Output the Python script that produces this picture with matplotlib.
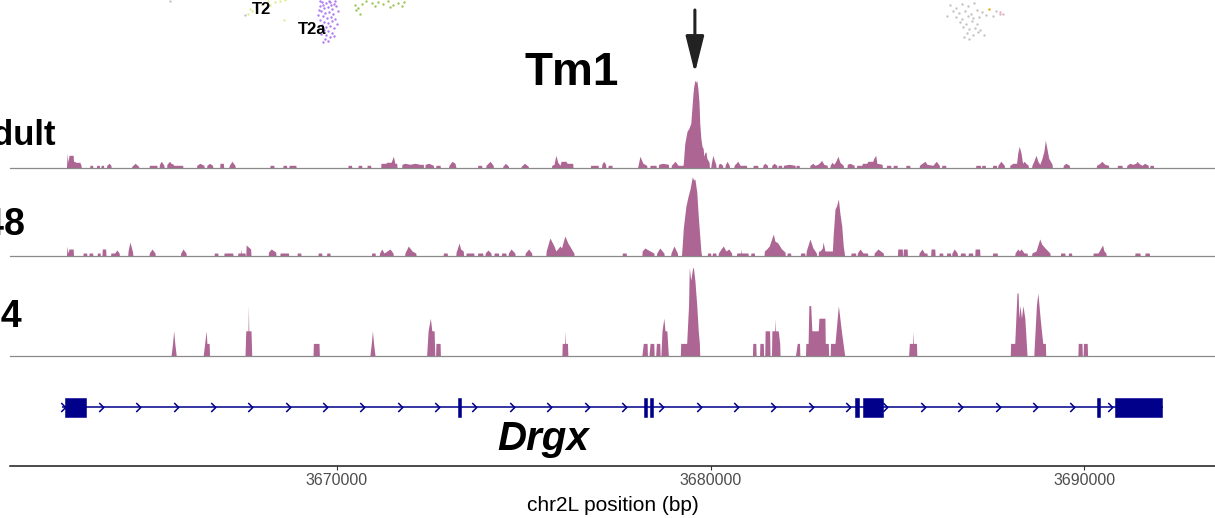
import matplotlib
matplotlib.use("Agg")
import matplotlib.pyplot as plt
import numpy as np
from matplotlib.path import Path
from matplotlib.patches import Rectangle
from matplotlib.ticker import FuncFormatter

plt.rcParams['font.family'] = ['Liberation Sans', 'DejaVu Sans']

# ---------------- data (positions in kb on chr2L) ----------------
adult_profile = [
 (3662.76,0),(3662.78,15),(3662.80,6),(3662.83,13),(3662.94,13),(3662.95,7),(3662.99,7),(3663.00,6),(3663.12,6),(3663.15,3),(3663.16,0),
 (3663.38,0),(3663.39,3),(3663.46,3),(3663.47,0),
 (3663.56,0),(3663.57,3),(3663.64,3),(3663.65,0),
 (3663.68,0),(3663.69,3),(3663.75,3),(3663.76,0),
 (3663.83,0),(3663.84,3),(3663.90,5),(3663.95,3),(3663.96,0),
 (3664.50,0),(3664.51,2),(3664.60,5),(3664.69,2),(3664.70,0),
 (3664.97,0),(3664.98,3),(3665.18,3),(3665.19,0),
 (3665.24,0),(3665.25,4),(3665.30,7),(3665.37,3),(3665.38,0),
 (3665.44,0),(3665.45,4),(3665.52,7),(3665.56,5),(3665.62,4),(3665.63,3),(3665.87,3),(3665.88,0),
 (3666.24,0),(3666.25,3),(3666.33,5),(3666.44,3),(3666.45,0),
 (3666.51,0),(3666.52,3),(3666.59,5),(3666.67,3),(3666.68,0),
 (3666.86,0),(3666.87,5),(3666.96,5),(3666.97,0),
 (3667.10,0),(3667.12,3),(3667.19,7),(3667.27,3),(3667.28,0),
 (3668.20,0),(3668.21,3),(3668.31,3),(3668.32,0),
 (3668.55,0),(3668.56,3),(3668.65,3),(3668.66,0),
 (3668.71,0),(3668.72,3),(3668.90,3),(3668.91,0),
 (3670.29,0),(3670.30,3),(3670.39,3),(3670.40,0),
 (3670.56,0),(3670.57,3),(3670.66,3),(3670.67,0),
 (3670.80,0),(3670.81,3),(3670.90,3),(3670.91,0),
 (3671.17,0),(3671.18,5),(3671.31,5),(3671.33,6),(3671.45,6),(3671.51,12),(3671.55,5),(3671.60,5),(3671.61,0),
 (3671.73,0),(3671.74,4),(3671.82,5),(3671.95,4),(3672.09,5),(3672.22,4),(3672.31,4),(3672.32,0),
 (3672.35,0),(3672.36,4),(3672.46,5),(3672.58,3),(3672.59,0),
 (3672.64,0),(3672.65,3),(3672.76,3),(3672.77,0),
 (3672.98,0),(3673.00,3),(3673.08,7),(3673.16,5),(3673.19,0),
 (3673.76,0),(3673.77,3),(3673.87,3),(3673.88,0),
 (3673.98,0),(3673.99,3),(3674.10,7),(3674.18,3),(3674.19,0),
 (3674.43,0),(3674.44,2),(3674.51,5),(3674.59,2),(3674.60,0),
 (3674.92,0),(3674.93,2),(3675.02,5),(3675.12,2),(3675.13,0),
 (3675.74,0),(3675.75,3),(3675.81,4),(3675.86,13),(3675.91,6),(3675.97,3),(3676.00,7),(3676.13,7),(3676.16,5),(3676.31,5),(3676.32,0),
 (3676.78,0),(3676.79,3),(3676.99,3),(3677.00,0),
 (3677.08,0),(3677.09,4),(3677.14,7),(3677.19,4),(3677.20,0),
 (3677.25,0),(3677.26,3),(3677.36,3),(3677.37,0),
 (3678.04,0),(3678.06,3),(3678.11,12),(3678.19,5),(3678.29,3),(3678.30,0),
 (3678.37,0),(3678.38,3),(3678.54,3),(3678.55,0),
 (3678.60,0),(3678.61,4),(3678.72,5),(3678.87,4),(3678.88,0),
 (3678.94,0),(3678.95,3),(3679.05,7),(3679.13,3),(3679.26,3),(3679.27,5),(3679.31,25),(3679.37,37),(3679.42,40),
 (3679.47,45),(3679.50,60),(3679.53,75),(3679.55,82),(3679.58,88),(3679.61,86),(3679.63,88),(3679.66,80),(3679.69,66),
 (3679.71,45),(3679.74,30),(3679.77,22),(3679.80,20),(3679.82,12),(3679.85,16),(3679.88,16),(3679.90,10),(3679.93,8),
 (3679.96,6),(3679.97,0),
 (3680.00,0),(3680.02,5),(3680.06,13),(3680.10,8),(3680.14,4),(3680.15,0),
 (3680.20,0),(3680.21,4),(3680.26,5),(3680.32,3),(3680.33,0),
 (3680.38,0),(3680.39,3),(3680.44,7),(3680.50,3),(3680.51,0),
 (3680.62,0),(3680.63,3),(3680.73,7),(3680.79,3),(3680.96,3),(3680.97,0),
 (3681.13,0),(3681.14,3),(3681.26,3),(3681.27,0),
 (3681.39,0),(3681.40,3),(3681.45,5),(3681.52,3),(3681.53,0),
 (3681.63,0),(3681.64,3),(3681.70,5),(3681.77,3),(3681.78,0),
 (3681.80,0),(3681.81,3),(3681.90,3),(3681.91,0),
 (3681.94,0),(3681.95,3),(3682.10,4),(3682.26,3),(3682.27,0),
 (3682.28,0),(3682.29,3),(3682.37,3),(3682.38,0),
 (3682.65,0),(3682.66,3),(3682.74,5),(3682.79,3),(3682.87,4),(3682.93,6),(3682.97,8),(3683.03,4),(3683.12,3),(3683.13,0),
 (3683.19,0),(3683.20,3),(3683.25,6),(3683.30,4),(3683.35,7),(3683.41,12),(3683.46,6),(3683.55,3),(3683.56,0),
 (3683.65,0),(3683.66,4),(3683.73,5),(3683.84,3),(3683.85,0),
 (3683.90,0),(3683.91,3),(3684.05,3),(3684.06,5),(3684.18,5),(3684.21,7),(3684.34,7),(3684.37,10),(3684.42,13),(3684.45,5),(3684.59,4),(3684.60,0),
 (3684.70,0),(3684.71,3),(3684.82,3),(3684.83,0),
 (3684.88,0),(3684.89,3),(3684.99,3),(3685.00,0),
 (3685.22,0),(3685.23,3),(3685.33,3),(3685.34,0),
 (3685.58,0),(3685.59,3),(3685.66,5),(3685.74,7),(3685.79,4),(3685.95,3),(3686.04,7),(3686.12,3),(3686.13,0),
 (3686.18,0),(3686.19,3),(3686.29,3),(3686.30,0),
 (3687.09,0),(3687.10,3),(3687.22,3),(3687.23,0),(3687.25,0),(3687.26,3),(3687.35,3),(3687.36,0),
 (3687.54,0),(3687.55,3),(3687.65,3),(3687.66,0),
 (3687.68,0),(3687.69,3),(3687.77,7),(3687.86,3),(3687.87,0),
 (3688.00,0),(3688.01,3),(3688.09,5),(3688.19,5),(3688.22,15),(3688.26,22),(3688.31,15),(3688.35,5),(3688.39,7),(3688.44,5),(3688.50,3),(3688.51,0),
 (3688.59,0),(3688.60,3),(3688.65,7),(3688.71,13),(3688.76,7),(3688.81,4),(3688.87,10),(3688.92,17),(3688.96,28),(3689.00,20),(3689.05,10),(3689.14,4),(3689.15,0),
 (3689.43,0),(3689.44,3),(3689.51,5),(3689.60,3),(3689.61,0),
 (3690.32,0),(3690.33,3),(3690.42,5),(3690.47,7),(3690.55,4),(3690.65,3),(3690.66,0),
 (3690.88,0),(3690.89,3),(3691.01,3),(3691.02,0),
 (3691.13,0),(3691.14,3),(3691.22,5),(3691.30,4),(3691.38,5),(3691.41,7),(3691.46,5),(3691.54,3),(3691.62,5),(3691.71,3),(3691.72,0),
 (3691.75,0),(3691.76,3),(3691.85,3),(3691.86,0),
]

p48_profile = [
 (3662.76,0),(3662.78,10),(3662.80,3),(3662.83,7),(3662.94,7),(3662.95,0),
 (3663.20,0),(3663.21,3),(3663.30,3),(3663.31,0),
 (3663.36,0),(3663.37,3),(3663.46,3),(3663.47,0),
 (3663.58,0),(3663.59,3),(3663.66,3),(3663.67,0),
 (3663.71,0),(3663.72,7),(3663.81,7),(3663.82,0),
 (3663.94,0),(3663.95,3),(3664.05,3),(3664.11,6),(3664.17,3),(3664.18,0),
 (3664.40,0),(3664.41,5),(3664.46,14),(3664.53,4),(3664.54,0),
 (3664.97,0),(3664.98,3),(3665.05,7),(3665.13,3),(3665.14,0),
 (3665.81,0),(3665.82,3),(3665.88,7),(3665.96,3),(3665.97,0),
 (3666.71,0),(3666.72,3),(3666.81,3),(3666.82,0),
 (3666.97,0),(3666.98,3),(3667.21,3),(3667.22,0),
 (3667.34,0),(3667.35,3),(3667.42,3),(3667.43,7),(3667.44,3),(3667.54,3),(3667.55,0),
 (3667.56,0),(3667.57,11),(3667.69,7),(3667.70,0),
 (3668.16,0),(3668.17,4),(3668.24,7),(3668.36,4),(3668.37,0),
 (3668.47,0),(3668.48,3),(3668.70,3),(3668.71,0),
 (3668.93,0),(3668.94,3),(3669.03,3),(3669.04,0),
 (3669.49,0),(3669.50,3),(3669.59,3),(3669.60,0),
 (3669.72,0),(3669.73,3),(3669.81,3),(3669.82,0),
 (3670.92,0),(3670.93,3),(3671.02,3),(3671.03,0),
 (3671.13,0),(3671.14,3),(3671.20,7),(3671.26,3),(3671.34,5),(3671.42,7),(3671.50,3),(3671.51,0),
 (3671.81,0),(3671.82,3),(3671.91,10),(3672.01,5),(3672.11,3),(3672.12,0),
 (3672.84,0),(3672.85,3),(3672.95,3),(3672.96,0),
 (3673.18,0),(3673.19,4),(3673.27,13),(3673.31,7),(3673.38,5),(3673.39,0),
 (3673.45,0),(3673.46,3),(3673.66,3),(3673.67,0),
 (3673.76,0),(3673.77,3),(3673.90,3),(3673.91,0),
 (3673.96,0),(3673.97,3),(3674.04,6),(3674.12,3),(3674.13,0),
 (3674.20,0),(3674.21,3),(3674.32,3),(3674.33,0),
 (3674.40,0),(3674.41,3),(3674.52,3),(3674.53,0),
 (3674.58,0),(3674.59,3),(3674.66,7),(3674.76,3),(3674.77,0),
 (3675.03,0),(3675.04,3),(3675.13,7),(3675.21,3),(3675.22,0),
 (3675.59,0),(3675.60,5),(3675.70,18),(3675.81,10),(3675.86,5),(3675.97,10),(3676.01,8),(3676.10,20),(3676.18,13),(3676.26,8),(3676.34,3),(3676.35,0),
 (3677.63,0),(3677.64,3),(3677.74,3),(3677.75,0),
 (3678.16,0),(3678.17,5),(3678.24,8),(3678.38,5),(3678.48,3),(3678.49,0),
 (3678.55,0),(3678.56,3),(3678.64,8),(3678.75,3),(3678.76,0),
 (3678.93,0),(3678.94,3),(3679.02,10),(3679.11,3),(3679.12,0),
 (3679.22,0),(3679.24,10),(3679.27,28),(3679.34,50),(3679.40,60),(3679.45,67),(3679.51,79),(3679.55,76),(3679.58,77),
 (3679.63,64),(3679.67,40),(3679.71,20),(3679.74,5),(3679.76,0),
 (3679.91,0),(3679.92,3),(3680.00,3),(3680.01,0),
 (3680.04,0),(3680.05,3),(3680.14,3),(3680.15,0),
 (3680.20,0),(3680.21,3),(3680.28,7),(3680.34,10),(3680.41,5),(3680.49,7),(3680.56,3),(3680.57,0),
 (3680.69,0),(3680.70,3),(3680.80,3),(3680.81,7),(3680.82,3),(3681.00,3),(3681.01,0),
 (3681.07,0),(3681.08,3),(3681.17,3),(3681.18,0),
 (3681.43,0),(3681.44,5),(3681.50,7),(3681.57,10),(3681.68,22),(3681.72,15),(3681.80,13),(3681.90,7),(3681.99,4),(3682.00,0),
 (3682.04,0),(3682.05,3),(3682.14,3),(3682.15,0),
 (3682.40,0),(3682.41,3),(3682.52,3),(3682.53,0),
 (3682.55,0),(3682.56,5),(3682.66,17),(3682.74,8),(3682.83,3),(3682.84,0),
 (3682.88,0),(3682.89,5),(3682.93,5),(3682.99,8),(3683.01,14),(3683.06,5),(3683.14,5),(3683.26,5),(3683.28,20),
 (3683.33,47),(3683.37,50),(3683.42,57),(3683.46,43),(3683.51,30),(3683.55,10),(3683.59,0),
 (3683.75,0),(3683.76,3),(3683.88,3),(3683.89,0),
 (3683.92,0),(3683.93,3),(3684.00,7),(3684.08,3),(3684.20,3),(3684.21,0),
 (3684.37,0),(3684.38,3),(3684.48,7),(3684.62,3),(3684.63,0),
 (3685.00,0),(3685.01,7),(3685.13,7),(3685.14,0),
 (3685.15,0),(3685.16,7),(3685.26,7),(3685.27,0),
 (3685.57,0),(3685.58,3),(3685.66,7),(3685.72,3),(3685.79,3),(3685.80,0),
 (3685.89,0),(3685.90,7),(3686.00,7),(3686.01,0),
 (3686.11,0),(3686.12,3),(3686.21,3),(3686.22,0),
 (3686.31,0),(3686.32,3),(3686.42,3),(3686.43,0),
 (3686.45,0),(3686.46,3),(3686.52,7),(3686.60,3),(3686.61,0),
 (3686.68,0),(3686.69,3),(3686.81,3),(3686.82,0),
 (3686.89,0),(3686.90,3),(3687.01,3),(3687.02,0),
 (3687.07,0),(3687.08,7),(3687.20,7),(3687.21,0),
 (3687.54,0),(3687.55,3),(3687.67,3),(3687.68,0),
 (3688.14,0),(3688.15,3),(3688.22,7),(3688.26,5),(3688.31,7),(3688.39,3),(3688.47,3),(3688.48,0),
 (3688.59,0),(3688.60,3),(3688.71,5),(3688.81,17),(3688.86,12),(3688.95,8),(3689.03,5),(3689.08,3),(3689.09,0),
 (3689.36,0),(3689.37,3),(3689.48,3),(3689.49,0),
 (3689.57,0),(3689.58,3),(3689.66,3),(3689.67,0),
 (3690.23,0),(3690.24,3),(3690.35,3),(3690.37,3),(3690.49,11),(3690.53,5),(3690.58,3),(3690.59,0),
 (3691.35,0),(3691.36,3),(3691.49,3),(3691.50,0),
 (3691.62,0),(3691.63,3),(3691.74,3),(3691.75,0),
]

p24_profile = [
 (3665.56,0),(3665.60,1),(3665.63,2),(3665.66,1),(3665.70,0),
 (3666.42,0),(3666.50,2),(3666.52,1),(3666.58,1),(3666.59,0),
 (3667.54,0),(3667.56,2),(3667.62,2),(3667.63,4),(3667.64,2),(3667.70,2),(3667.72,0),
 (3669.36,0),(3669.37,1),(3669.52,1),(3669.53,0),
 (3670.88,0),(3670.92,1),(3670.95,2),(3670.98,1),(3671.02,0),
 (3672.40,0),(3672.44,2),(3672.50,3),(3672.54,2),(3672.60,2),(3672.62,0),
 (3672.64,0),(3672.65,1),(3672.76,1),(3672.77,0),
 (3676.02,0),(3676.03,1),(3676.09,1),(3676.10,2),(3676.11,1),(3676.17,1),(3676.18,0),
 (3678.16,0),(3678.20,1),(3678.30,1),(3678.31,0),
 (3678.35,0),(3678.38,1),(3678.48,1),(3678.49,0),
 (3678.53,0),(3678.55,1),(3678.64,1),(3678.65,0),
 (3678.67,0),(3678.70,2),(3678.75,3),(3678.78,2),(3678.83,2),(3678.87,0),
 (3679.19,0),(3679.20,1),(3679.36,1),(3679.41,4),(3679.43,7),(3679.47,6),(3679.52,7),(3679.54,7),(3679.58,6),
 (3679.63,4),(3679.67,2),(3679.70,1),(3679.71,0),
 (3681.12,0),(3681.13,1),(3681.21,1),(3681.22,0),
 (3681.31,0),(3681.32,1),(3681.41,1),(3681.42,0),
 (3681.45,0),(3681.46,2),(3681.58,2),(3681.59,0),
 (3681.63,0),(3681.64,2),(3681.71,2),(3681.72,3),(3681.73,2),(3681.81,2),(3681.85,1),(3681.86,0),
 (3682.27,0),(3682.32,1),(3682.38,1),(3682.39,0),
 (3682.54,0),(3682.55,1),(3682.61,1),(3682.63,4),(3682.68,4),(3682.71,2),(3682.88,2),(3682.90,3),(3683.06,3),(3683.07,1),(3683.15,1),(3683.16,0),
 (3683.20,0),(3683.21,1),(3683.33,1),(3683.42,4),(3683.50,2),(3683.59,0),
 (3685.30,0),(3685.32,1),(3685.41,1),(3685.42,2),(3685.43,1),(3685.51,1),(3685.52,0),
 (3688.02,0),(3688.03,1),(3688.14,1),(3688.17,3),(3688.20,5),(3688.23,5),(3688.25,3),(3688.28,4),(3688.32,3),(3688.36,4),(3688.41,3),(3688.47,0),
 (3688.65,0),(3688.72,4),(3688.76,5),(3688.82,3),(3688.89,1),(3688.96,1),(3688.97,0),
 (3689.83,0),(3689.84,1),(3689.94,1),(3689.95,0),
 (3689.97,0),(3689.98,1),(3690.08,1),(3690.09,0),
]

track_names = ['Adult', 'P48', 'P24']

gene_name = 'Drgx'
gene_start = 3662.64
gene_end = 3692.10
exon_starts = [3662.73, 3673.23, 3678.22, 3678.38, 3683.86, 3684.07, 3690.34, 3690.82]
exon_ends   = [3663.29, 3673.31, 3678.30, 3678.46, 3683.96, 3684.61, 3690.43, 3692.09]
chevron_first = 3662.68
chevron_step = 1.0

x_ticks = [3670, 3680, 3690]
x_range = (3661.25, 3693.50)

# UMAP fragment at the top (UMAP units)
umap_purple = [(32.2,4.8),(32.6,4.7),(33.0,4.8),(33.4,4.6),(32.0,4.4),(32.4,4.2),(32.8,4.3),(33.2,4.1),(33.6,4.4),
               (32.1,3.9),(32.5,3.7),(32.9,3.8),(33.3,3.6),(32.3,3.4),(32.7,3.2),(33.1,3.3),(33.5,3.1),(32.0,3.0),
               (32.4,2.8),(32.8,2.7),(33.2,2.9),(32.2,2.5),(32.6,2.3),(33.0,2.4),(33.4,2.2),(32.4,2.0),(32.8,1.9),
               (33.2,1.7),(32.1,1.6),(32.6,1.5),(33.0,1.3),(32.5,1.1),(32.8,0.9),(32.3,0.8),(33.4,1.4),(31.8,3.5),
               (33.7,2.6),(32.0,4.9),(32.9,4.95),(33.5,4.9),(31.9,4.0),(33.8,3.9),(32.3,4.5),(33.1,4.55)]
umap_yellow = [(24.8,3.6),(25.2,3.9),(25.6,4.3),(26.2,4.6),(26.8,4.9),(27.5,4.8),(28.0,4.9),(28.5,5.0),(25.0,4.1),
               (27.0,4.5),(28.4,3.0)]
umap_green = [(35.5,4.5),(35.8,4.2),(36.2,4.6),(36.6,4.9),(37.2,4.7),(37.8,4.8),(38.3,4.6),(38.8,4.9),(39.3,4.5),
              (39.8,4.7),(40.2,4.4),(40.4,4.8),(36.0,3.6),(35.6,4.0),(37.5,4.4),(39.0,4.3)]
umap_grey = [(95.0,4.5),(95.6,4.2),(96.2,4.6),(96.8,4.4),(97.4,4.7),(95.3,3.9),(95.9,3.7),(96.5,3.9),(97.1,3.6),
             (97.7,4.0),(98.2,3.8),(95.6,3.3),(96.2,3.1),(96.8,3.4),(97.3,3.2),(97.9,3.3),(96.0,2.8),(96.6,2.6),
             (97.2,2.9),(97.7,2.6),(96.3,2.3),(96.9,2.1),(97.5,2.2),(98.0,2.0),(96.7,1.7),(97.3,1.5),(97.8,1.8),
             (96.9,1.1),(98.6,3.5),(99.3,3.4),(100.0,3.6),(99.6,3.9),(98.4,1.5),(94.7,3.4),(96.4,1.3),
             (24.5,3.5),(17.0,4.95)]
umap_gold = [(98.9,4.1)]
umap_pink = [(100.0,3.8),(100.3,3.6)]
umap_labels = [('T2', 26.2, 4.05), ('T2a', 31.25, 2.1)]

# ---------------- styling ----------------
FILL = '#AD6593'
NAVY = '#00008B'
W, H = 1215, 518


def fx(px):
    return px / W


def fy(py):
    return 1 - py / H


fig = plt.figure(figsize=(W / 100, H / 100), dpi=100)
left = fx(10)
width = 1 - left


def unzip(profile):
    prof = sorted(profile, key=lambda p: p[0])
    return np.array([p[0] for p in prof]), np.array([p[1] for p in prof])


tracks = [
    (adult_profile, 168.3, 95.0),
    (p48_profile, 256.0, 95.0),
    (p24_profile, 356.0, 95.0 / 12.6),
]
track_axes = []
for prof, base_px, ytop in tracks:
    ax = fig.add_axes([left, fy(base_px), width, 95 / H])
    pos, cov = unzip(prof)
    ax.fill_between(pos, cov, 0, color=FILL, lw=0, zorder=2)
    ax.axhline(0, color='#8a8a8a', lw=0.9, clip_on=False, zorder=3)
    ax.set_xlim(*x_range)
    ax.set_ylim(0, ytop)
    ax.axis('off')
    track_axes.append(ax)

# track labels (partly cut by the figure edge as in the reference)
label_pos = [(56, 145, 25), (25.5, 235, 27), (22.5, 327, 27)]
for name, (px, py, fs) in zip(track_names, label_pos):
    fig.text(fx(px), fy(py), name, ha='right', va='baseline', fontsize=fs, fontweight='bold')

# gene model axis (its bottom spine is the x axis)
axg = fig.add_axes([left, fy(466), width, 86 / H])
axg.set_xlim(*x_range)
axg.set_ylim(0, 86)
gy = 59
axg.plot([gene_start, gene_end], [gy, gy], color=NAVY, lw=1.1, zorder=2, solid_capstyle='butt')
chev = np.arange(chevron_first, gene_end, chevron_step)
chev_path = Path([(-0.5, 1.0), (0.5, 0.0), (-0.5, -1.0)], [Path.MOVETO, Path.LINETO, Path.LINETO])
axg.plot(chev, np.full(len(chev), gy), ls='none', marker=chev_path, ms=6.5,
         mfc='none', mec=NAVY, mew=1.1, zorder=2)
for s, e in zip(exon_starts, exon_ends):
    axg.add_patch(Rectangle((s, gy - 9.5), e - s, 19, facecolor=NAVY, edgecolor=NAVY, lw=0.4, zorder=3))
axg.text(3675.51, 16, gene_name, ha='center', va='baseline', fontsize=29,
         fontweight='bold', fontstyle='italic')

for sp in ['top', 'left', 'right']:
    axg.spines[sp].set_visible(False)
axg.spines['bottom'].set_linewidth(1.1)
axg.spines['bottom'].set_color('#1a1a1a')
axg.set_yticks([])
axg.set_xticks(x_ticks)
axg.xaxis.set_major_formatter(FuncFormatter(lambda v, p: f"{int(round(v * 1000))}"))
axg.tick_params(axis='x', length=3, width=0.8, color='#333333', labelsize=11.5,
                labelcolor='#4d4d4d', pad=2)
axg.patch.set_visible(False)
fig.text(fx(612.5), fy(511), 'chr2L position (bp)', ha='center', va='baseline', fontsize=15)

# title and arrow
fig.text(fx(572), fy(85), 'Tm1', ha='center', va='baseline', fontsize=33, fontweight='bold')
track_axes[0].annotate('', xy=(3679.58, fy(73)), xycoords=('data', 'figure fraction'),
                       xytext=(3679.58, fy(10)), textcoords=('data', 'figure fraction'),
                       arrowprops=dict(arrowstyle='-|>,head_length=1.6,head_width=0.4',
                                       color='#222222', lw=2.2, mutation_scale=14,
                                       shrinkA=0, shrinkB=0),
                       annotation_clip=False)

# UMAP fragment
uax = fig.add_axes([0, fy(50), 1, 50 / H])
uax.set_xlim(0, 121.5)
uax.set_ylim(0, 5)
uax.axis('off')
for pts, col in [(umap_yellow, '#E4EC98'), (umap_purple, '#B07CF2'), (umap_green, '#9CC65B'),
                 (umap_grey, '#C4C4C4'), (umap_gold, '#D4B000'), (umap_pink, '#F0B0C8')]:
    uax.scatter([p[0] for p in pts], [p[1] for p in pts], s=3, c=col, lw=0, clip_on=False)
for txt, ux, uy in umap_labels:
    uax.text(ux, uy, txt, ha='center', va='center', fontsize=12, fontweight='bold')

fig.savefig('out.png', dpi=100)
